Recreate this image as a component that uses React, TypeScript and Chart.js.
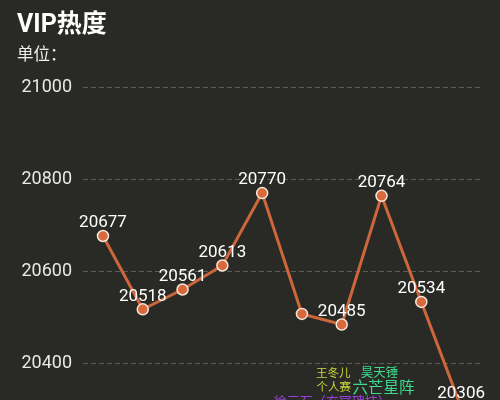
import React, { useEffect, useRef } from "react";
import { Chart, registerables } from "chart.js";

Chart.register(...registerables);

const categories = ["01", "02", "03", "04", "05", "06", "07", "08", "09", "10"];
const vipHeat = [20677, 20518, 20561, 20613, 20770, 20508, 20485, 20764, 20534, 20306];
const showValueLabel = [true, true, true, true, true, false, true, true, true, true];
const yTickMin = 20200;
const yTickMax = 21000;
const yTickStep = 200;

const eventTexts = ["王冬儿", "个人赛", "昊天锤", "六芒星阵", "徐三石（玄冥碑技）"];
const eventCategory = [5.79, 5.8, 6.95, 7.05, 5.76];
const eventValue = [20378, 20348, 20377, 20345, 20316];
const eventColors = ["#c8d63c", "#c8d63c", "#3ddc8c", "#3ddc8c", "#9b40d8"];
const eventFontSizes = [11.5, 11.5, 12.5, 15.5, 13];

const FONT = "Roboto, 'Noto Sans CJK SC', sans-serif";

const valueLabelPlugin = {
  id: "valueLabels",
  afterDatasetsDraw(chart: any) {
    const ctx = chart.ctx;
    const meta = chart.getDatasetMeta(0);
    ctx.save();
    ctx.fillStyle = "#ffffff";
    ctx.font = `17px ${FONT}`;
    ctx.textAlign = "center";
    ctx.textBaseline = "middle";
    meta.data.forEach((pt: any, i: number) => {
      if (!showValueLabel[i]) return;
      ctx.fillText(String(vipHeat[i]), pt.x, pt.y - 13);
    });
    ctx.restore();
  },
};

const eventLabelPlugin = {
  id: "eventLabels",
  afterDatasetsDraw(chart: any) {
    const ctx = chart.ctx;
    const xs = chart.scales.x;
    const ys = chart.scales.y;
    ctx.save();
    ctx.textAlign = "center";
    ctx.textBaseline = "middle";
    eventTexts.forEach((t, i) => {
      ctx.fillStyle = eventColors[i];
      ctx.font = `${eventFontSizes[i]}px ${FONT}`;
      ctx.fillText(t, xs.getPixelForValue(eventCategory[i]), ys.getPixelForValue(eventValue[i]));
    });
    ctx.restore();
  },
};

export default function App() {
  const ref = useRef<HTMLCanvasElement>(null);

  useEffect(() => {
    document.body.style.margin = "0";
    document.body.style.background = "#292a26";
    const chart = new Chart(ref.current!, {
      type: "line",
      data: {
        labels: categories,
        datasets: [
          {
            data: vipHeat,
            borderColor: "#cd673b",
            borderWidth: 3,
            pointRadius: 5.5,
            pointBackgroundColor: "#d9683a",
            pointBorderColor: "#f4e8de",
            pointBorderWidth: 1.5,
            tension: 0,
          },
        ],
      },
      options: {
        animation: false,
        responsive: true,
        maintainAspectRatio: false,
        layout: { padding: { left: 10.5, right: 19, top: 87, bottom: 24 } },
        plugins: {
          legend: { display: false },
          tooltip: { enabled: false },
          title: { display: false },
        },
        scales: {
          x: {
            type: "category",
            display: false,
            offset: true,
          },
          y: {
            min: yTickMin,
            max: yTickMax,
            ticks: {
              stepSize: yTickStep,
              color: "#e8e8e8",
              font: { size: 18, family: FONT },
              padding: 11,
              callback: (v: any) => String(v),
            },
            grid: { color: "#5c5c55", lineWidth: 1, drawTicks: false },
            border: { display: false, dash: [5, 3] },
          },
        },
      },
      plugins: [valueLabelPlugin, eventLabelPlugin],
    });
    return () => chart.destroy();
  }, []);

  return (
    <div
      style={{
        position: "relative",
        width: 500,
        height: 480,
        background: "#292a26",
        fontFamily: FONT,
      }}
    >
      <div
        style={{
          position: "absolute",
          left: 17,
          top: 11,
          fontSize: 25,
          lineHeight: "25px",
          fontWeight: "bold",
          color: "#ffffff",
        }}
      >
        VIP热度
      </div>
      <div
        style={{
          position: "absolute",
          left: 17,
          top: 46,
          fontSize: 16.5,
          lineHeight: "17px",
          color: "#eeeeee",
        }}
      >
        单位：
      </div>
      <canvas ref={ref} />
    </div>
  );
}
